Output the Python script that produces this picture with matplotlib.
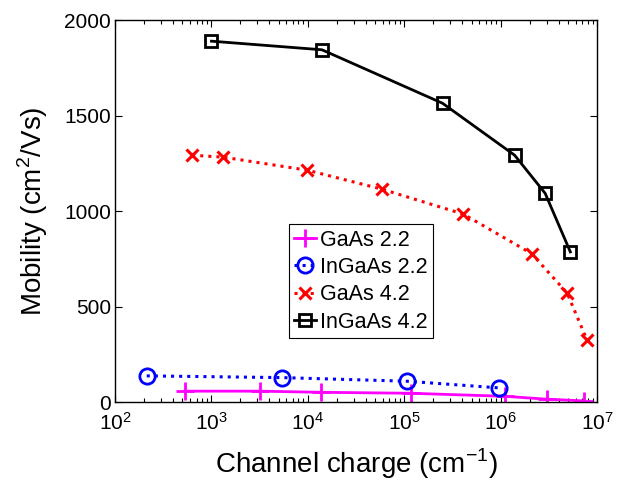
import matplotlib
matplotlib.use("Agg")
import matplotlib.pyplot as plt
from matplotlib.ticker import LogLocator, NullFormatter, FixedLocator

plt.rcParams['font.family'] = ['Liberation Sans', 'DejaVu Sans']
plt.rcParams['mathtext.fontset'] = 'custom'
plt.rcParams['mathtext.rm'] = 'Liberation Sans'

# Mobility vs. channel charge
gaas22_x = [530, 3.2e3, 1.38e4, 1.17e5, 1.12e6, 3.0e6, 7.4e6]
gaas22_y = [58, 58, 52, 47, 31, 16, 7]

ingaas22_x = [213, 5.4e3, 1.07e5, 9.7e5]
ingaas22_y = [138, 129, 110, 75]

gaas42_x = [630, 1.32e3, 9.8e3, 5.9e4, 4.1e5, 2.1e6, 4.9e6, 7.9e6]
gaas42_y = [1293, 1283, 1215, 1115, 985, 778, 572, 325]

ingaas42_x = [1.0e3, 1.4e4, 2.5e5, 1.4e6, 2.9e6, 5.3e6]
ingaas42_y = [1890, 1845, 1565, 1293, 1094, 787]

labels = ['GaAs 2.2', 'InGaAs 2.2', 'GaAs 4.2', 'InGaAs 4.2']

fig = plt.figure(figsize=(6.29, 4.8), dpi=100)
ax = fig.add_axes([0.183, 0.162, 0.766, 0.796])

ax.plot(gaas22_x, gaas22_y, color='#ff00ff', linestyle='-', linewidth=2,
        marker='+', markersize=13, markeredgewidth=2, label=labels[0])
ax.plot(ingaas22_x, ingaas22_y, color='#0000ff', linestyle=':', linewidth=2.2,
        marker='o', markersize=11, markeredgewidth=2, markerfacecolor='none',
        label=labels[1])
ax.plot(gaas42_x, gaas42_y, color='#ff0000', linestyle=':', linewidth=2.2,
        marker='x', markersize=8, markeredgewidth=2.2, label=labels[2])
ax.plot(ingaas42_x, ingaas42_y, color='black', linestyle='-', linewidth=2,
        marker='s', markersize=9, markeredgewidth=2, markerfacecolor='none',
        label=labels[3])

ax.set_xscale('log')
ax.set_xlim(1e2, 1e7)
ax.set_ylim(0, 2000)
ax.yaxis.set_major_locator(FixedLocator([0, 500, 1000, 1500, 2000]))
ax.xaxis.set_major_locator(LogLocator(base=10, numticks=10))
ax.xaxis.set_minor_locator(LogLocator(base=10, subs=range(2, 10), numticks=10))
ax.xaxis.set_minor_formatter(NullFormatter())

ax.tick_params(which='both', direction='in', top=True, right=True,
               labelsize=15, width=0.8)
ax.tick_params(axis='x', which='major', pad=7)
ax.tick_params(axis='y', which='major', pad=3)
ax.tick_params(which='major', length=5)
ax.tick_params(which='minor', length=3)
for s in ax.spines.values():
    s.set_linewidth(1.0)

ax.set_xlabel('Channel charge (cm$^{-1}$)', fontsize=20, labelpad=9)
ax.set_ylabel('Mobility (cm$^2$/Vs)', fontsize=20, labelpad=10)

leg = ax.legend(loc='upper left', bbox_to_anchor=(0.361, 0.466), fontsize=15.5,
                handlelength=1.0, handletextpad=0.2, borderpad=0.25,
                labelspacing=0.3, fancybox=False, framealpha=1,
                edgecolor='black', borderaxespad=0)
leg.get_frame().set_linewidth(0.8)

fig.savefig('out.png', dpi=100)
